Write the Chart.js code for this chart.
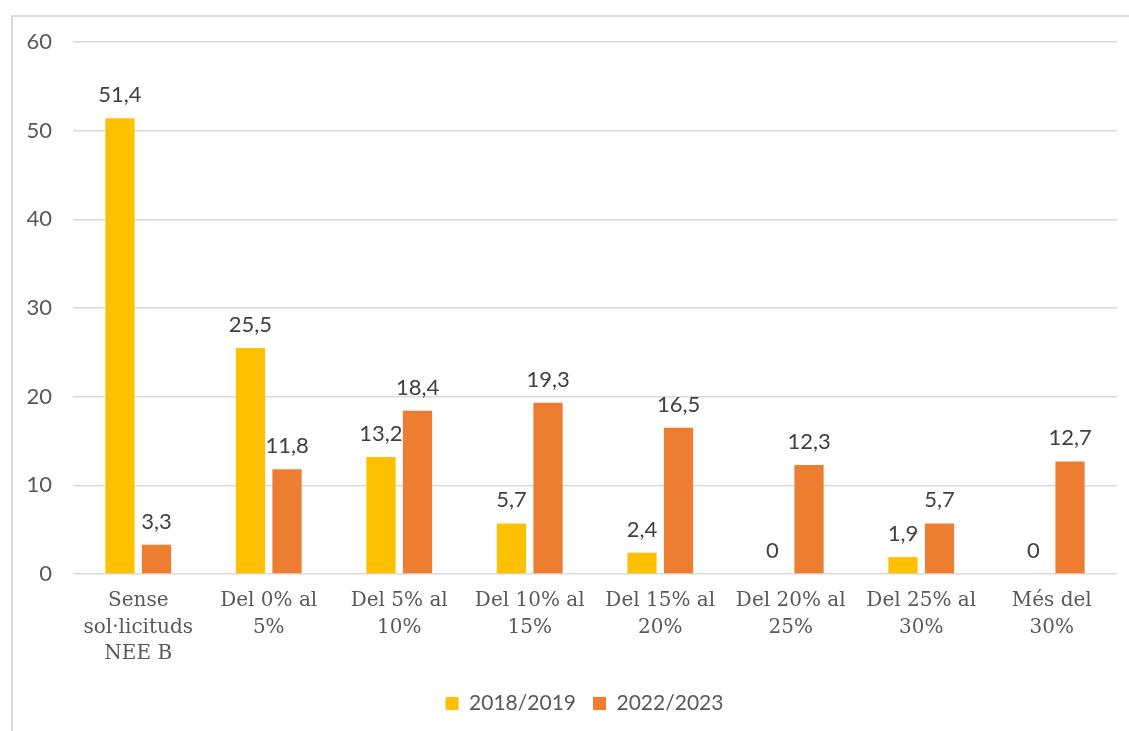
<!DOCTYPE html>
<html>
<head>
<meta charset="utf-8">
<script src="https://cdn.jsdelivr.net/npm/chart.js@4.4.1/dist/chart.umd.min.js"></script>
<style>
	body { margin: 0; background: #fff; overflow: hidden; }
	#wrap { position: relative; width: 1129px; height: 731px; overflow: hidden; }
	#frame { position: absolute; left: 11px; top: 15px; width: 1200px; height: 800px; border-left: 2px solid #d9d9d9; border-top: 2px solid #d9d9d9; }
	canvas { position: absolute; left: 0; top: 0; }
</style>
</head>
<body>
<div id="wrap">
	<div id="frame"></div>
	<canvas id="myChart" width="1129" height="731"></canvas>
</div>
<script>
// categories
const labels = [
	['Sense', 'sol·licituds', 'NEE B'],
	['Del 0% al', '5%'],
	['Del 5% al', '10%'],
	['Del 10% al', '15%'],
	['Del 15% al', '20%'],
	['Del 20% al', '25%'],
	['Del 25% al', '30%'],
	['Més del', '30%']
];

const seriesNames = ['2018/2019', '2022/2023'];
const values2018 = [51.4, 25.5, 13.2, 5.7, 2.4, 0, 1.9, 0];
const values2022 = [3.3, 11.8, 18.4, 19.3, 16.5, 12.3, 5.7, 12.7];
const yTicks = [0, 10, 20, 30, 40, 50, 60];

// value labels above the bars
const barLabels = {
	id: 'barLabels',
	afterLayout: function(chart){
		// legend sits a bit right of centre in the original
		let lg = chart.legend;
		lg.left += 26;
		lg.right += 26;
	},
	afterDatasetsDraw: function(chart){
		let ctx = chart.ctx;
		ctx.save();
		ctx.font = '22px Lato';
		ctx.fillStyle = '#404040';
		ctx.textAlign = 'center';
		ctx.textBaseline = 'alphabetic';
		chart.data.datasets.forEach(function(ds, i){
			let meta = chart.getDatasetMeta(i);
			meta.data.forEach(function(bar, j){
				let txt = String(ds.data[j]).replace('.', ',');
				ctx.fillText(txt, bar.x, bar.y - 16);
			});
		});
		ctx.restore();
	}
};

const data = {
	labels: labels,
	datasets: [{
		label: seriesNames[0],
		backgroundColor: '#ffc000',
		data: values2018
	}, {
		label: seriesNames[1],
		backgroundColor: '#ed7d31',
		data: values2022
	}]
};

const config = {
	type: 'bar',
	data: data,
	plugins: [barLabels],
	options: {
		responsive: false,
		animation: false,
		layout: { padding: { top: 42, right: 12, left: 0, bottom: 7 } },
		datasets: {
			bar: { categoryPercentage: 0.56, barPercentage: 0.8 }
		},
		plugins: {
			legend: {
				position: 'bottom',
				labels: {
					boxWidth: 13,
					boxHeight: 13,
					padding: 17,
					color: '#595959',
					font: { family: 'Lato', size: 21 }
				}
			},
			tooltip: { enabled: false }
		},
		scales: {
			x: {
				afterFit: function(axis){ axis.height = 102; },
				grid: { display: false },
				border: { display: false },
				ticks: {
					color: '#595959',
					font: { family: 'DejaVu Serif', size: 20, lineHeight: 1.32 },
					maxRotation: 0,
					autoSkip: false,
					padding: 6
				}
			},
			y: {
				min: 0,
				max: 60,
				afterFit: function(axis){ axis.width = 73; },
				afterBuildTicks: function(axis){
					axis.ticks = yTicks.map(function(v){ return { value: v }; });
				},
				grid: { color: '#d9d9d9', lineWidth: 1.5, drawTicks: false },
				border: { display: false },
				ticks: {
					color: '#595959',
					font: { family: 'Lato', size: 22 },
					padding: 21
				}
			}
		}
	}
};

var myChart = new Chart(document.getElementById('myChart'), config);
</script>
</body>
</html>
